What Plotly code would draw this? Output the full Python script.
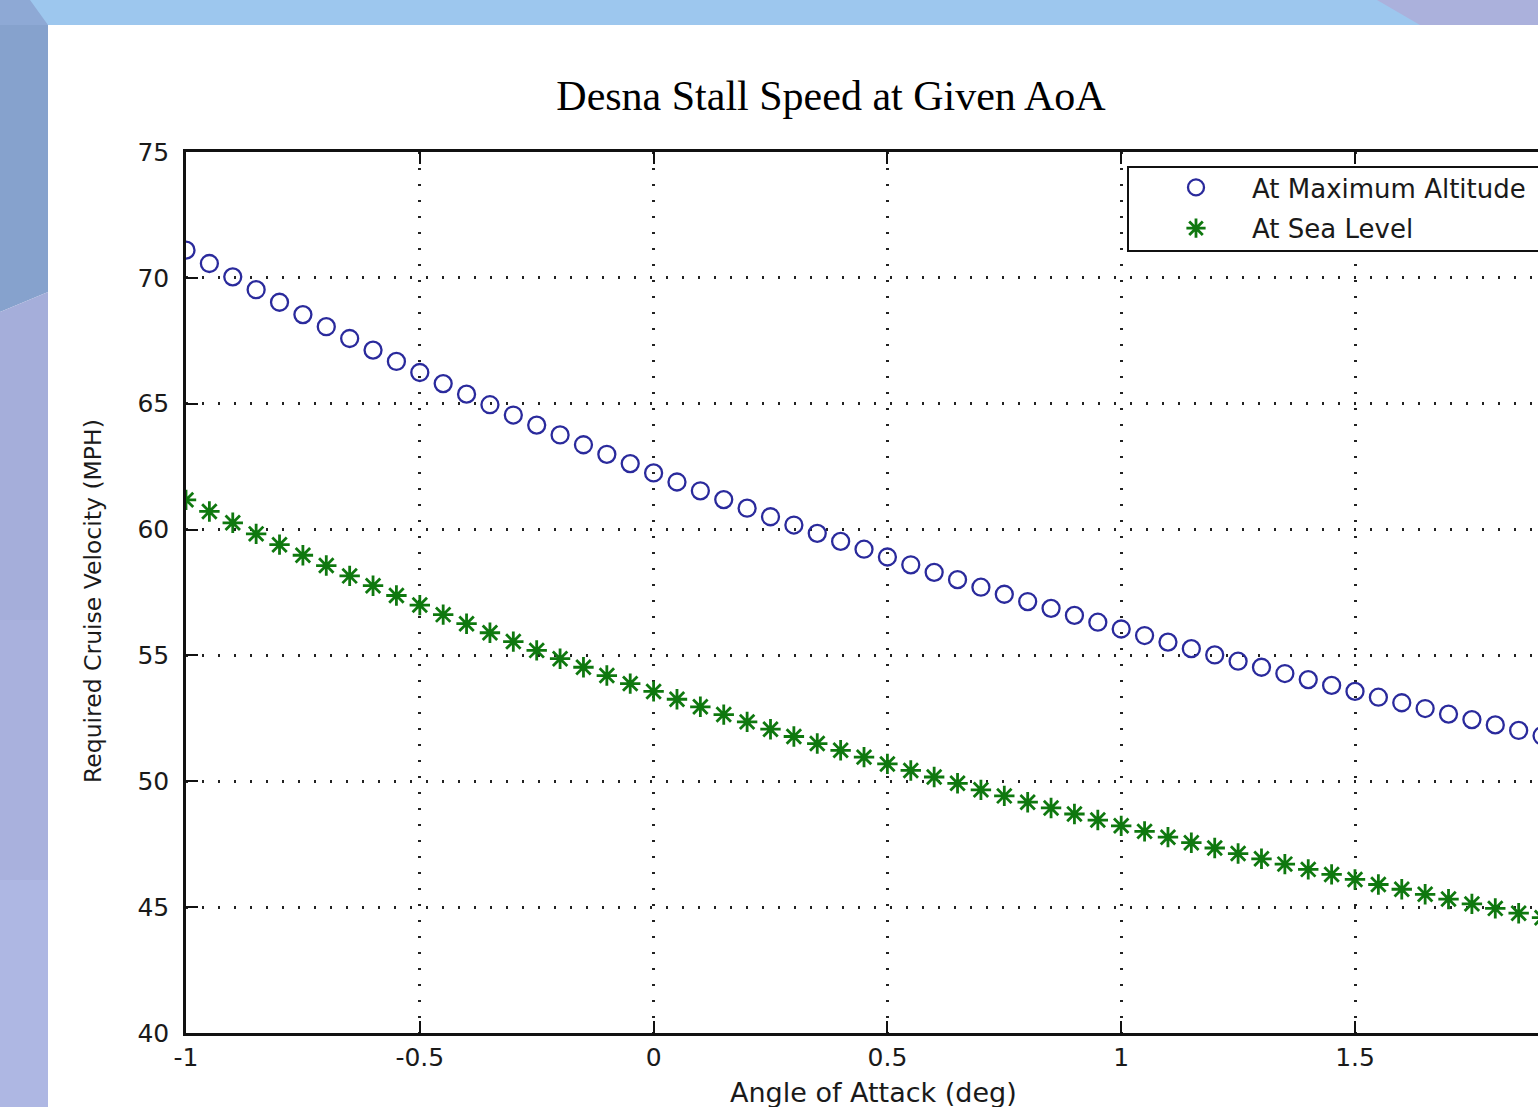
import plotly.graph_objects as go

# ---------------- data ----------------
aoa_deg = [-1.00, -0.95, -0.90, -0.85, -0.80, -0.75, -0.70, -0.65, -0.60, -0.55,
           -0.50, -0.45, -0.40, -0.35, -0.30, -0.25, -0.20, -0.15, -0.10, -0.05,
           0.00, 0.05, 0.10, 0.15, 0.20, 0.25, 0.30, 0.35, 0.40, 0.45,
           0.50, 0.55, 0.60, 0.65, 0.70, 0.75, 0.80, 0.85, 0.90, 0.95,
           1.00, 1.05, 1.10, 1.15, 1.20, 1.25, 1.30, 1.35, 1.40, 1.45,
           1.50, 1.55, 1.60, 1.65, 1.70, 1.75, 1.80, 1.85, 1.90]

v_max_altitude = [71.10, 70.57, 70.04, 69.53, 69.03, 68.54, 68.06, 67.59, 67.13, 66.68,
                  66.24, 65.80, 65.38, 64.96, 64.55, 64.15, 63.76, 63.37, 62.99, 62.62,
                  62.25, 61.89, 61.54, 61.19, 60.85, 60.51, 60.18, 59.85, 59.53, 59.22,
                  58.91, 58.60, 58.30, 58.01, 57.71, 57.43, 57.14, 56.87, 56.59, 56.32,
                  56.05, 55.79, 55.53, 55.27, 55.02, 54.77, 54.53, 54.28, 54.04, 53.81,
                  53.57, 53.34, 53.12, 52.89, 52.67, 52.45, 52.24, 52.02, 51.81]

v_sea_level = [61.18, 60.72, 60.27, 59.83, 59.40, 58.98, 58.57, 58.16, 57.77, 57.38,
               57.00, 56.62, 56.26, 55.90, 55.55, 55.20, 54.87, 54.53, 54.20, 53.88,
               53.57, 53.26, 52.96, 52.65, 52.36, 52.07, 51.78, 51.50, 51.23, 50.96,
               50.69, 50.43, 50.17, 49.92, 49.66, 49.42, 49.17, 48.94, 48.70, 48.46,
               48.23, 48.01, 47.78, 47.56, 47.35, 47.13, 46.92, 46.71, 46.50, 46.30,
               46.10, 45.90, 45.71, 45.51, 45.32, 45.13, 44.95, 44.76, 44.58]

x_ticks = [-1, -0.5, 0, 0.5, 1, 1.5]
x_tick_labels = ["-1", "-0.5", "0", "0.5", "1", "1.5"]
y_ticks = [40, 45, 50, 55, 60, 65, 70, 75]
y_tick_labels = ["40", "45", "50", "55", "60", "65", "70", "75"]

series_names = ["At Maximum Altitude", "At Sea Level"]
chart_title = "Desna Stall Speed at Given AoA"
x_title = "Angle of Attack (deg)"
y_title = "Required Cruise Velocity (MPH)"

# ---------------- geometry helpers (page pixels -> paper coords) ----------------
W, H = 1538, 1107
L, R, T, B = 186, 1538, 152, 1033


def px(x):
    return (x - L) / (R - L)


def py(y):
    return (B - y) / (B - T)


BLUE = "#2A2A9C"
GREEN = "#0F780F"
TICKFONT = dict(family="DejaVu Sans", size=25, color="#1a1a1a")

fig = go.Figure()

fig.add_trace(go.Scatter(
    x=aoa_deg, y=v_max_altitude, mode="markers", name=series_names[0],
    legendgroup="a",
    marker=dict(symbol="circle-open", size=17, color=BLUE,
                line=dict(color=BLUE, width=2.3)),
))
fig.add_trace(go.Scatter(
    x=aoa_deg, y=v_sea_level, mode="markers", name=series_names[1],
    legendgroup="b",
    marker=dict(symbol="asterisk-open", size=17, color=GREEN,
                line=dict(color=GREEN, width=2.8)),
))

shapes = [
    # left slide strip
    dict(type="path", xref="paper", yref="paper", layer="below", line_width=0,
         fillcolor="#86A2CD",
         path=f"M {px(0)},{py(0)} L {px(48)},{py(0)} L {px(48)},{py(292)} L {px(0)},{py(312)} Z"),
    dict(type="path", xref="paper", yref="paper", layer="below", line_width=0,
         fillcolor="#A5AEDA",
         path=f"M {px(0)},{py(312)} L {px(48)},{py(292)} L {px(48)},{py(620)} L {px(0)},{py(620)} Z"),
    dict(type="rect", xref="paper", yref="paper", layer="below", line_width=0,
         fillcolor="#A9B1DD", x0=px(0), x1=px(48), y0=py(880), y1=py(620)),
    dict(type="rect", xref="paper", yref="paper", layer="below", line_width=0,
         fillcolor="#AEB7E3", x0=px(0), x1=px(48), y0=py(1107), y1=py(880)),
    # top slide band
    dict(type="rect", xref="paper", yref="paper", layer="below", line_width=0,
         fillcolor="#9DC7EE", x0=px(0), x1=px(1538), y0=py(25), y1=py(0)),
    dict(type="path", xref="paper", yref="paper", layer="below", line_width=0,
         fillcolor="#ABB1DC",
         path=f"M {px(1377)},{py(0)} L {px(1538)},{py(0)} L {px(1538)},{py(25)} L {px(1420)},{py(25)} Z"),
    dict(type="path", xref="paper", yref="paper", layer="below", line_width=0,
         fillcolor="#8EA9D5",
         path=f"M {px(0)},{py(0)} L {px(30)},{py(0)} L {px(48)},{py(25)} L {px(0)},{py(25)} Z"),
    # legend box (white, covers the grid)
    dict(type="rect", xref="paper", yref="paper", layer="above",
         line=dict(color="#111111", width=2), fillcolor="#FFFFFF",
         x0=px(1128), x1=px(1560), y0=py(251), y1=py(167)),
]

annotations = [
    dict(text=x_title, xref="paper", yref="paper", x=px(873), y=py(1092),
         xanchor="center", yanchor="middle", showarrow=False,
         font=dict(family="DejaVu Sans", size=27, color="#1a1a1a")),
    dict(text=y_title, xref="paper", yref="paper", x=px(93), y=py(601),
         xanchor="center", yanchor="middle", showarrow=False, textangle=-90,
         font=dict(family="DejaVu Sans", size=23.5, color="#1a1a1a")),
]

fig.update_layout(
    width=W, height=H,
    margin=dict(l=L, r=W - R, t=T, b=H - B),
    paper_bgcolor="#FFFFFF",
    plot_bgcolor="#FFFFFF",
    title=dict(text=chart_title, x=(831) / W, xref="container", xanchor="center",
               y=1 - 95 / H, yref="container", yanchor="middle",
               font=dict(family="Liberation Serif", size=42, color="#000000")),
    shapes=shapes,
    annotations=annotations,
    showlegend=True,
    legend=dict(x=px(1140), y=py(164), xanchor="left", yanchor="top",
                xref="paper", yref="paper",
                bgcolor="rgba(255,255,255,0)", borderwidth=0,
                font=dict(family="DejaVu Sans", size=26, color="#1a1a1a"),
                itemwidth=102, traceorder="grouped", tracegroupgap=4),
    xaxis=dict(range=[-1, -1 + (R - L) / ((1355 - 186) / 2.5)],
               tickmode="array", tickvals=x_ticks, ticktext=x_tick_labels,
               ticks="inside", ticklen=12, tickwidth=2, tickcolor="#111111",
               showline=True, linecolor="#111111", linewidth=2.5, mirror="ticks",
               showgrid=True, gridcolor="#222222", gridwidth=2.5, griddash="2px,14px",
               zeroline=False, tickfont=TICKFONT, ticklabelstandoff=0),
    yaxis=dict(range=[40, 75],
               tickmode="array", tickvals=y_ticks, ticktext=y_tick_labels,
               ticks="inside", ticklen=12, tickwidth=2, tickcolor="#111111",
               showline=True, linecolor="#111111", linewidth=2.5, mirror=False,
               showgrid=True, gridcolor="#222222", gridwidth=2.5, griddash="2px,14px",
               zeroline=False, tickfont=TICKFONT, ticklabelstandoff=9),
)

fig.write_html("out.html")
